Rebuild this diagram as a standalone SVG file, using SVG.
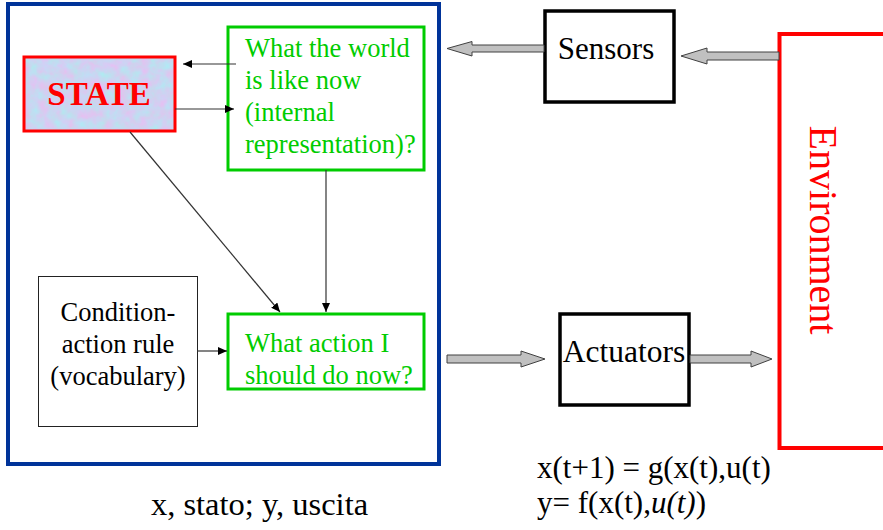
<svg xmlns="http://www.w3.org/2000/svg" width="883" height="530" viewBox="0 0 883 530" font-family="'Liberation Serif','Times New Roman',serif">
<style>
.ln{stroke:#333;stroke-width:1.2;fill:none}
.ga{fill:#c0c0c0;stroke:#404040;stroke-width:1}
</style>
<defs>
<marker id="ah" markerWidth="10" markerHeight="8" refX="9" refY="4" orient="auto" markerUnits="userSpaceOnUse">
<path d="M0,0 L9,4 L0,8 Z" fill="#000"/>
</marker>
<filter id="tex" x="0" y="0" width="1" height="1" color-interpolation-filters="sRGB">
<feTurbulence type="fractalNoise" baseFrequency="0.1" numOctaves="3" seed="5" result="n"/>
<feColorMatrix in="n" type="matrix" values="0.28 0 0 0 0.66  -0.22 0 0 0 0.94  0 0 0.05 0 0.92  0 0 0 0 1" result="c"/>
<feComposite in="c" in2="SourceGraphic" operator="in"/>
</filter>
</defs>
<rect width="883" height="530" fill="#fff"/>

<g id="agent">
<rect x="8" y="4" width="431" height="460" fill="none" stroke="#003399" stroke-width="4"/>
</g>

<g id="state">
<rect x="24" y="57" width="151" height="74" fill="#c8d2f0" filter="url(#tex)"/>
<rect x="24" y="57" width="151" height="74" fill="none" stroke="#ff0000" stroke-width="3"/>
<text x="99" y="105" text-anchor="middle" font-size="33" font-weight="bold" fill="#ff0000">STATE</text>
</g>

<g id="world" fill="#00cc00" font-size="26.5">
<rect x="228" y="27" width="196" height="143" fill="none" stroke="#00cc00" stroke-width="3"/>
<text x="245" y="57">What the world</text>
<text x="245" y="89">is like now</text>
<text x="245" y="121">(internal</text>
<text x="245" y="153">representation)?</text>
</g>

<g id="action" fill="#00cc00" font-size="26.5">
<rect x="228" y="314" width="196" height="75" fill="none" stroke="#00cc00" stroke-width="3"/>
<text x="245" y="352">What action I</text>
<text x="245" y="384">should do now?</text>
</g>

<g id="rules" fill="#000" font-size="26.5" text-anchor="middle">
<rect x="38.5" y="276.5" width="159" height="150" fill="none" stroke="#222" stroke-width="1"/>
<text x="118" y="321">Condition-</text>
<text x="118" y="353">action rule</text>
<text x="118" y="385">(vocabulary)</text>
</g>

<g id="sensors" font-size="31">
<rect x="545" y="11" width="129" height="91" fill="#fff" stroke="#000" stroke-width="3.5"/>
<text x="606" y="59" text-anchor="middle" fill="#000">Sensors</text>
</g>

<g id="actuators" font-size="31.5">
<rect x="560" y="314" width="129" height="91" fill="#fff" stroke="#000" stroke-width="3.5"/>
<text x="624" y="362" text-anchor="middle" fill="#000">Actuators</text>
</g>

<g id="environment">
<path d="M890,34 L779.5,34 L779.5,448 L890,448" fill="none" stroke="#ff0000" stroke-width="4"/>
<text transform="translate(810,230) rotate(90)" text-anchor="middle" font-size="40" fill="#ff0000">Environment</text>
</g>

<g id="connectors">
<line class="ln" x1="236" y1="64" x2="183" y2="64" marker-end="url(#ah)"/>
<line class="ln" x1="175" y1="109" x2="234" y2="109" marker-end="url(#ah)"/>
<line class="ln" x1="130" y1="132" x2="280" y2="312" marker-end="url(#ah)"/>
<line class="ln" x1="326" y1="170" x2="326" y2="312" marker-end="url(#ah)"/>
<line class="ln" x1="197" y1="351" x2="227" y2="351" marker-end="url(#ah)"/>
<path class="ga" d="M544,45 L472,45 L472,41.5 L447,48.5 L472,56 L472,52 L544,52 Z"/>
<path class="ga" d="M779,52 L707,52 L707,48 L681,56 L707,64 L707,60 L779,60 Z"/>
<path class="ga" d="M447,355 L521,355 L521,351 L545,359 L521,367 L521,363 L447,363 Z"/>
<path class="ga" d="M690,355 L751,355 L751,351 L772,359 L751,367 L751,363 L690,363 Z"/>
</g>

<g id="labels" fill="#000" font-size="31">
<text x="259.5" y="515" text-anchor="middle" font-size="32.5">x, stato; y, uscita</text>
<text x="537" y="478">x(t+1) = g(x(t),u(t)</text>
<text x="537" y="513">y= f(x(t),<tspan font-style="italic">u(t)</tspan>)</text>
</g>
</svg>
